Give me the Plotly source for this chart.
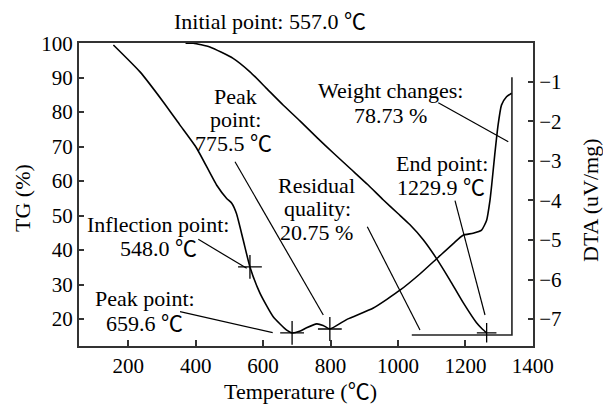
import plotly.graph_objects as go

# ---- data ----
dta_temp = [156, 235, 304, 353, 403, 462, 492, 507, 521, 541, 561, 591, 630, 670, 686, 708,
            729, 759, 778, 798, 850, 927, 1006, 1065, 1114, 1164, 1193, 1223, 1248, 1263,
            1273, 1278, 1287, 1297, 1307, 1322, 1337]
dta_val = [-0.07, -0.75, -1.51, -2.09, -2.68, -3.61, -3.95, -4.07, -4.33, -5.00, -5.68, -6.35,
           -6.94, -7.28, -7.35, -7.31, -7.22, -7.12, -7.16, -7.25, -7.00, -6.72, -6.27, -5.86,
           -5.48, -5.09, -4.88, -4.83, -4.75, -4.50, -3.99, -3.61, -2.85, -2.09, -1.59, -1.38,
           -1.29]

tg_temp = [370, 393, 442, 511, 561, 610, 660, 710, 760, 810, 860, 910, 956, 1000, 1035, 1075,
           1114, 1154, 1193, 1233, 1250, 1263]
tg_val = [100, 100, 98.9, 95.6, 91.7, 86.9, 82.0, 77.4, 72.6, 68.0, 63.5, 59.0, 54.6, 50.6,
          47.4, 43.0, 37.6, 31.3, 24.8, 18.9, 17.1, 16.0]

dta_mark_temp = [561, 686, 798]
dta_mark_val = [-5.68, -7.35, -7.25]
tg_mark_temp = [1263]
tg_mark_val = [16.0]

bracket_temp = [1041, 1338, 1338]
bracket_val = [15.36, 15.36, 90.1]

x_ticks = [200, 400, 600, 800, 1000, 1200, 1400]
tg_ticks = [20, 30, 40, 50, 60, 70, 80, 90, 100]
dta_ticks = [-7, -6, -5, -4, -3, -2, -1]

# ---- layout helpers (pixel -> paper) ----
W, H = 603, 404
L, R, T, B = 79, 533, 43, 346


def px(x):
    return (x - L) / (R - L)


def py(y):
    return (B - y) / (B - T)


FONT = "Liberation Serif, Noto Sans CJK SC, serif"
AX = "#333333"

fig = go.Figure()
fig.add_trace(go.Scatter(x=dta_temp, y=dta_val, yaxis="y2", mode="lines",
                         line=dict(color="black", width=1.6, shape="spline", smoothing=0.5),
                         showlegend=False, hoverinfo="skip"))
fig.add_trace(go.Scatter(x=tg_temp, y=tg_val, yaxis="y", mode="lines",
                         line=dict(color="black", width=1.6, shape="spline", smoothing=0.5),
                         showlegend=False, hoverinfo="skip"))
fig.add_trace(go.Scatter(x=bracket_temp, y=bracket_val, yaxis="y", mode="lines",
                         line=dict(color="#222222", width=1.6),
                         showlegend=False, hoverinfo="skip"))
fig.add_trace(go.Scatter(x=dta_mark_temp, y=dta_mark_val, yaxis="y2", mode="markers",
                         marker=dict(symbol="cross-thin", size=17,
                                     line=dict(color="black", width=1.3)),
                         showlegend=False, hoverinfo="skip"))
fig.add_trace(go.Scatter(x=tg_mark_temp, y=tg_mark_val, yaxis="y", mode="markers",
                         marker=dict(symbol="cross-thin", size=14,
                                     line=dict(color="black", width=1.3)),
                         showlegend=False, hoverinfo="skip"))

# leader lines (pixel endpoints)
leaders = [
    ((198.3, 239.3), (246.7, 268.3)),
    ((180.0, 311.7), (272.7, 332.7)),
    ((235.0, 161.7), (323.3, 315.0)),
    ((367.3, 226.7), (420.0, 330.0)),
    ((455.0, 200.7), (485.0, 315.0)),
    ((438.3, 102.7), (508.3, 141.7)),
]
shapes = []
for (x0, y0), (x1, y1) in leaders:
    shapes.append(dict(type="line", xref="paper", yref="paper",
                       x0=px(x0), y0=py(y0), x1=px(x1), y1=py(y1),
                       line=dict(color="black", width=1.2)))

labels = [
    ("Inflection point:", 158, 224),
    ("548.0 ℃", 158, 248),
    ("Peak point:", 145, 298),
    ("659.6 ℃", 144, 323),
    ("Peak", 235, 96),
    ("point:", 235, 119),
    ("775.5 ℃", 233, 143),
    ("Residual", 316, 185),
    ("quality:", 317, 208),
    ("20.75 %", 316, 232),
    ("End point:", 442, 163),
    ("1229.9 ℃", 441, 187),
    ("Weight changes:", 390, 90),
    ("78.73 %", 390, 115),
]
annotations = []
for txt, x, y in labels:
    annotations.append(dict(text=txt, x=px(x), y=py(y), xref="paper", yref="paper",
                            xanchor="center", yanchor="middle", showarrow=False,
                            font=dict(family=FONT, size=22, color="black")))

annotations += [
    dict(text="Initial point: 557.0 ℃", x=px(270), y=py(22), xref="paper", yref="paper",
         xanchor="center", yanchor="middle", showarrow=False,
         font=dict(family=FONT, size=22, color="black")),
    dict(text="Temperature (℃)", x=px(300), y=py(391), xref="paper", yref="paper",
         xanchor="center", yanchor="middle", showarrow=False,
         font=dict(family=FONT, size=22, color="black")),
    dict(text="TG (%)", x=px(22), y=py(198), xref="paper", yref="paper", textangle=-90,
         xanchor="center", yanchor="middle", showarrow=False,
         font=dict(family=FONT, size=22, color="black")),
    dict(text="DTA (uV/mg)", x=px(591), y=py(200), xref="paper", yref="paper", textangle=-90,
         xanchor="center", yanchor="middle", showarrow=False,
         font=dict(family=FONT, size=22, color="black")),
]

tickfont = dict(family=FONT, size=21, color="black")
fig.update_layout(
    width=W, height=H,
    margin=dict(l=L, r=W - R, t=T, b=H - B, pad=0),
    paper_bgcolor="white", plot_bgcolor="white",
    xaxis=dict(range=[54, 1400.5], tickvals=x_ticks, ticks="inside", ticklen=6,
               tickwidth=1.5, tickcolor=AX, showline=True, linecolor=AX, linewidth=2,
               mirror=True, showgrid=False, zeroline=False, tickfont=tickfont),
    yaxis=dict(range=[12.17, 100.05], tickvals=tg_ticks, ticks="inside", ticklen=5,
               tickwidth=1.5, tickcolor=AX, showline=True, linecolor=AX, linewidth=2,
               showgrid=False, zeroline=False, tickfont=tickfont),
    yaxis2=dict(range=[-7.68, -0.02], tickvals=dta_ticks, ticks="inside", ticklen=5,
                tickwidth=1.5, tickcolor=AX, showline=True, linecolor=AX, linewidth=2,
                overlaying="y", side="right", showgrid=False, zeroline=False,
                tickfont=tickfont),
    shapes=shapes,
    annotations=annotations,
)

fig.write_html("out.html")
